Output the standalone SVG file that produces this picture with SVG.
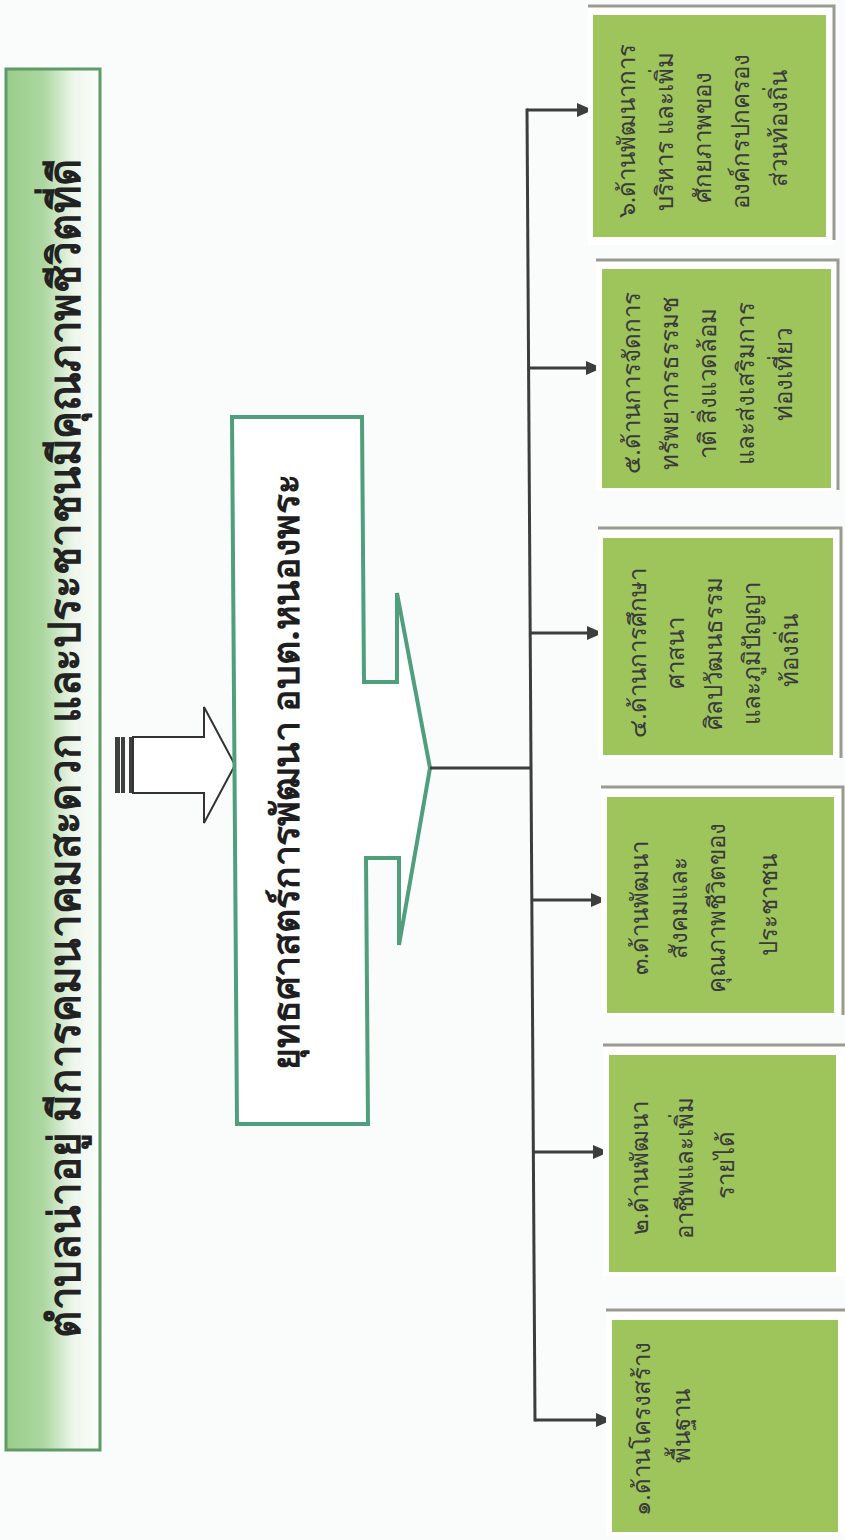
<svg xmlns="http://www.w3.org/2000/svg" width="845" height="1540" viewBox="0 0 845 1540">
<defs>
<linearGradient id="titleGrad" x1="0" y1="0" x2="1" y2="0">
<stop offset="0" stop-color="#9acd8a"/>
<stop offset="0.4" stop-color="#acd7a0"/>
<stop offset="0.72" stop-color="#eef6ec"/>
<stop offset="1" stop-color="#fbfdfb"/>
</linearGradient>
<marker id="arr" viewBox="0 0 16 14" refX="16" refY="7" markerWidth="16" markerHeight="14" markerUnits="userSpaceOnUse" orient="auto">
<path d="M0,0 L16,7 L0,14 z" fill="#3d3d3d"/>
</marker>
<style>
.bg{fill:#fafcfc}
.title-box{fill:url(#titleGrad);stroke:#5f9a68;stroke-width:3}
.title-txt{font-family:'Noto Sans','DejaVu Sans',sans-serif;font-size:44px;font-weight:bold;fill:#222}
.strat{fill:#ffffff;stroke:#4f9f7c;stroke-width:4;stroke-linejoin:miter}
.strat-txt{font-family:'Noto Sans','DejaVu Sans',sans-serif;font-size:38px;font-weight:bold;fill:#1e1e1e}
.in-arrow{fill:#ffffff;stroke:#333;stroke-width:2}
.stripe{fill:#3f3f3f}
.box-fill{fill:#9dc55c}
.box-frame{fill:#ffffff}
.box-shadow{fill:none;stroke:#9a9a90;stroke-width:3}
.box-txt{font-family:'Noto Sans','DejaVu Sans',sans-serif;font-size:24px;fill:#3a3a3a}
.conn{fill:none;stroke:#3d3d3d;stroke-width:3}
.conn-arr{fill:none;stroke:#3d3d3d;stroke-width:3;marker-end:url(#arr)}
</style>
</defs>
<rect class="bg" x="0" y="0" width="845" height="1540"/>

<g id="title">
<rect class="title-box" x="6" y="69" width="94" height="1381"/>
<text class="title-txt" transform="translate(80,748) rotate(-90)" text-anchor="middle" x="0" y="0" textLength="1180" lengthAdjust="spacingAndGlyphs">ตำบลน่าอยู่  มีการคมนาคมสะดวก และประชาชนมีคุณภาพชีวิตที่ดี</text>
</g>

<g id="input-arrow">
<rect class="stripe" x="115" y="737" width="5" height="56"/>
<rect class="stripe" x="121" y="737" width="4" height="56"/>
<rect class="stripe" x="129" y="737" width="4" height="56"/>
<polygon class="in-arrow" points="133,737 204,737 204,707 235,765 204,823 204,793 133,793"/>
</g>

<g id="strategy">
<polygon class="strat" points="232,417 362,417 364,682 397,682 397,593 430,768 399,945 399,858 366,858 368,1124 237,1124"/>
<text class="strat-txt" transform="translate(299,772) rotate(-90)" text-anchor="middle" x="0" y="0" textLength="595" lengthAdjust="spacingAndGlyphs">ยุทธศาสตร์การพัฒนา อบต.หนองพระ</text>
</g>

<g id="connectors">
<line class="conn" x1="430" y1="768" x2="531" y2="768"/>
<line class="conn" x1="527" y1="108.5" x2="535" y2="1421.5"/>
<line class="conn-arr" x1="527" y1="110" x2="593" y2="110"/>
<line class="conn-arr" x1="528.6" y1="368" x2="602" y2="368"/>
<line class="conn-arr" x1="530.2" y1="633" x2="603" y2="633"/>
<line class="conn-arr" x1="531.8" y1="900" x2="607" y2="900"/>
<line class="conn-arr" x1="533.4" y1="1152" x2="609" y2="1152"/>
<line class="conn-arr" x1="535" y1="1420" x2="612" y2="1420"/>
</g>

<g id="box6">
<rect class="box-frame" x="588" y="5" width="247" height="240"/>
<polyline class="box-shadow" points="588,6 834,6 834,240"/>
<rect class="box-fill" x="593" y="15" width="233" height="222"/>
<text class="box-txt" transform="translate(0,128) rotate(-90)" text-anchor="middle">
<tspan x="0" y="635">๖.ด้านพัฒนาการ</tspan>
<tspan x="0" y="673">บริหาร และเพิ่ม</tspan>
<tspan x="-6" y="711">ศักยภาพของ</tspan>
<tspan x="0" y="749">องค์กรปกครอง</tspan>
<tspan x="0" y="787">ส่วนท้องถิ่น</tspan>
</text>
</g>

<g id="box5">
<rect class="box-frame" x="596" y="259" width="243" height="232"/>
<polyline class="box-shadow" points="596,260 838,260 838,490"/>
<rect class="box-fill" x="602" y="269" width="229" height="219"/>
<text class="box-txt" transform="translate(0,380) rotate(-90)" text-anchor="middle">
<tspan x="0" y="640">๕.ด้านการจัดการ</tspan>
<tspan x="0" y="678">ทรัพยากรธรรมช</tspan>
<tspan x="0" y="716">าติ สิ่งแวดล้อม</tspan>
<tspan x="0" y="754">และส่งเสริมการ</tspan>
<tspan x="6" y="792">ท่องเที่ยว</tspan>
</text>
</g>

<g id="box4">
<rect class="box-frame" x="598" y="527" width="243" height="232"/>
<polyline class="box-shadow" points="598,528 841,528 841,758"/>
<rect class="box-fill" x="603" y="538" width="230" height="217"/>
<text class="box-txt" transform="translate(0,650) rotate(-90)" text-anchor="middle">
<tspan x="0" y="646">๔.ด้านการศึกษา</tspan>
<tspan x="0" y="684">ศาสนา</tspan>
<tspan x="0" y="722">ศิลปวัฒนธรรม</tspan>
<tspan x="0" y="760">และภูมิปัญญา</tspan>
<tspan x="0" y="798">ท้องถิ่น</tspan>
</text>
</g>

<g id="box3">
<rect class="box-frame" x="601" y="786" width="242" height="230"/>
<polyline class="box-shadow" points="601,787 843,787 843,1015"/>
<rect class="box-fill" x="607" y="797" width="227" height="216"/>
<text class="box-txt" transform="translate(0,905) rotate(-90)" text-anchor="middle">
<tspan x="0" y="648">๓.ด้านพัฒนา</tspan>
<tspan x="0" y="687">สังคมและ</tspan>
<tspan x="0" y="725">คุณภาพชีวิตของ</tspan>
<tspan x="0" y="777">ประชาชน</tspan>
</text>
</g>

<g id="box2">
<rect class="box-frame" x="603" y="1044" width="242" height="232"/>
<polyline class="box-shadow" points="603,1045 845,1045"/>
<rect class="box-fill" x="609" y="1055" width="227" height="217"/>
<text class="box-txt" transform="translate(0,1165) rotate(-90)" text-anchor="middle">
<tspan x="0" y="648">๒.ด้านพัฒนา</tspan>
<tspan x="0" y="693">อาชีพและเพิ่ม</tspan>
<tspan x="0" y="734">รายได้</tspan>
</text>
</g>

<g id="box1">
<rect class="box-frame" x="606" y="1309" width="239" height="226"/>
<polyline class="box-shadow" points="606,1310 845,1310"/>
<rect class="box-fill" x="612" y="1320" width="226" height="212"/>
<text class="box-txt" transform="translate(0,1426) rotate(-90)" text-anchor="middle">
<tspan x="0" y="650">๑.ด้านโครงสร้าง</tspan>
<tspan x="0" y="690">พื้นฐาน</tspan>
</text>
</g>
</svg>
